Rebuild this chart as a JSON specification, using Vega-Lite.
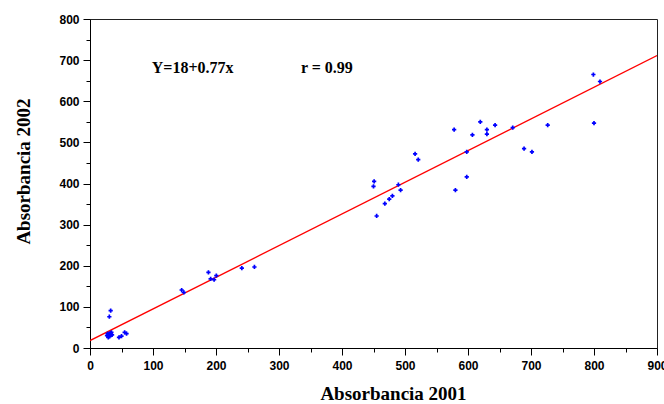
{
  "$schema": "https://vega.github.io/schema/vega-lite/v6.json",
  "width": 567,
  "height": 329,
  "autosize": "none",
  "padding": {"left": 90, "top": 19, "right": 7, "bottom": 56},
  "background": "white",
  "config": {
    "view": {"stroke": "#222", "strokeWidth": 1},
    "axis": {
      "grid": false,
      "domainColor": "#000",
      "tickColor": "#000",
      "labelFont": "Liberation Sans",
      "labelFontWeight": "bold",
      "labelFontSize": 12,
      "labelColor": "#000",
      "titleFont": "Liberation Serif",
      "titleFontWeight": "bold",
      "titleFontSize": 19,
      "titleColor": "#000"
    }
  },
  "datasets": {
    "pts": [
      {"a2001": 30.7, "a2002": 76}, {"a2001": 32.8, "a2002": 91},
      {"a2001": 27, "a2002": 30}, {"a2001": 29, "a2002": 26}, {"a2001": 30, "a2002": 33},
      {"a2001": 31, "a2002": 28}, {"a2001": 32, "a2002": 36}, {"a2001": 33, "a2002": 31},
      {"a2001": 34, "a2002": 38}, {"a2001": 28, "a2002": 35}, {"a2001": 35, "a2002": 32},
      {"a2001": 46, "a2002": 26}, {"a2001": 50, "a2002": 29}, {"a2001": 55, "a2002": 38},
      {"a2001": 58, "a2002": 35},
      {"a2001": 145.5, "a2002": 141}, {"a2001": 149, "a2002": 135},
      {"a2001": 188, "a2002": 184}, {"a2001": 191.5, "a2002": 168}, {"a2001": 197, "a2002": 166},
      {"a2001": 200.5, "a2002": 176}, {"a2001": 241, "a2002": 194}, {"a2001": 261, "a2002": 197},
      {"a2001": 451, "a2002": 405}, {"a2001": 450, "a2002": 393}, {"a2001": 455, "a2002": 321},
      {"a2001": 468, "a2002": 351}, {"a2001": 475, "a2002": 362}, {"a2001": 480, "a2002": 370},
      {"a2001": 489.5, "a2002": 397}, {"a2001": 493, "a2002": 384}, {"a2001": 516, "a2002": 472},
      {"a2001": 521, "a2002": 458}, {"a2001": 578, "a2002": 531}, {"a2001": 580, "a2002": 384},
      {"a2001": 598, "a2002": 477}, {"a2001": 598, "a2002": 416}, {"a2001": 607, "a2002": 518},
      {"a2001": 619.5, "a2002": 550}, {"a2001": 630, "a2002": 531}, {"a2001": 630, "a2002": 520},
      {"a2001": 643, "a2002": 542}, {"a2001": 671, "a2002": 536}, {"a2001": 689, "a2002": 485},
      {"a2001": 701.5, "a2002": 477}, {"a2001": 726.5, "a2002": 542}, {"a2001": 800, "a2002": 547},
      {"a2001": 799, "a2002": 665}, {"a2001": 809.5, "a2002": 648}
    ],
    "fit": [
      {"a2001": 0, "a2002": 18},
      {"a2001": 900, "a2002": 711}
    ],
    "notes": [
      {"a2001": 163, "a2002": 681, "label": "Y=18+0.77x"},
      {"a2001": 376, "a2002": 681, "label": "r = 0.99"}
    ]
  },
  "encoding": {
    "x": {
      "field": "a2001", "type": "quantitative",
      "scale": {"domain": [0, 900], "nice": false, "zero": false},
      "axis": {
        "title": "Absorbancia 2001",
        "values": [0, 50, 100, 150, 200, 250, 300, 350, 400, 450, 500, 550, 600, 650, 700, 750, 800, 850, 900],
        "labelExpr": "datum.value % 100 === 0 ? datum.label : ''",
        "tickSize": {"condition": {"test": "datum.value % 100 === 0", "value": 7}, "value": 4},
        "labelPadding": 5,
        "labelFlush": false,
        "labelOverlap": false,
        "titlePadding": 13,
        "titleX": 303
      }
    },
    "y": {
      "field": "a2002", "type": "quantitative",
      "scale": {"domain": [0, 800], "nice": false, "zero": false},
      "axis": {
        "title": "Absorbancia 2002",
        "values": [0, 50, 100, 150, 200, 250, 300, 350, 400, 450, 500, 550, 600, 650, 700, 750, 800],
        "labelExpr": "datum.value % 100 === 0 ? datum.label : ''",
        "tickSize": {"condition": {"test": "datum.value % 100 === 0", "value": 7}, "value": 4},
        "labelPadding": 4,
        "labelFlush": false,
        "labelOverlap": false,
        "titlePadding": 25,
        "titleY": 152
      }
    }
  },
  "layer": [
    {
      "data": {"name": "fit"},
      "mark": {"type": "line", "color": "#FF0000", "strokeWidth": 1.3, "clip": true}
    },
    {
      "data": {"name": "pts"},
      "mark": {"type": "point", "shape": "cross", "filled": true, "size": 18, "color": "#0000FF", "opacity": 1}
    },
    {
      "data": {"name": "notes"},
      "mark": {"type": "text", "font": "Liberation Serif", "fontWeight": "bold", "fontSize": 16, "color": "#000", "align": "center", "baseline": "middle"},
      "encoding": {"text": {"field": "label"}}
    }
  ]
}
